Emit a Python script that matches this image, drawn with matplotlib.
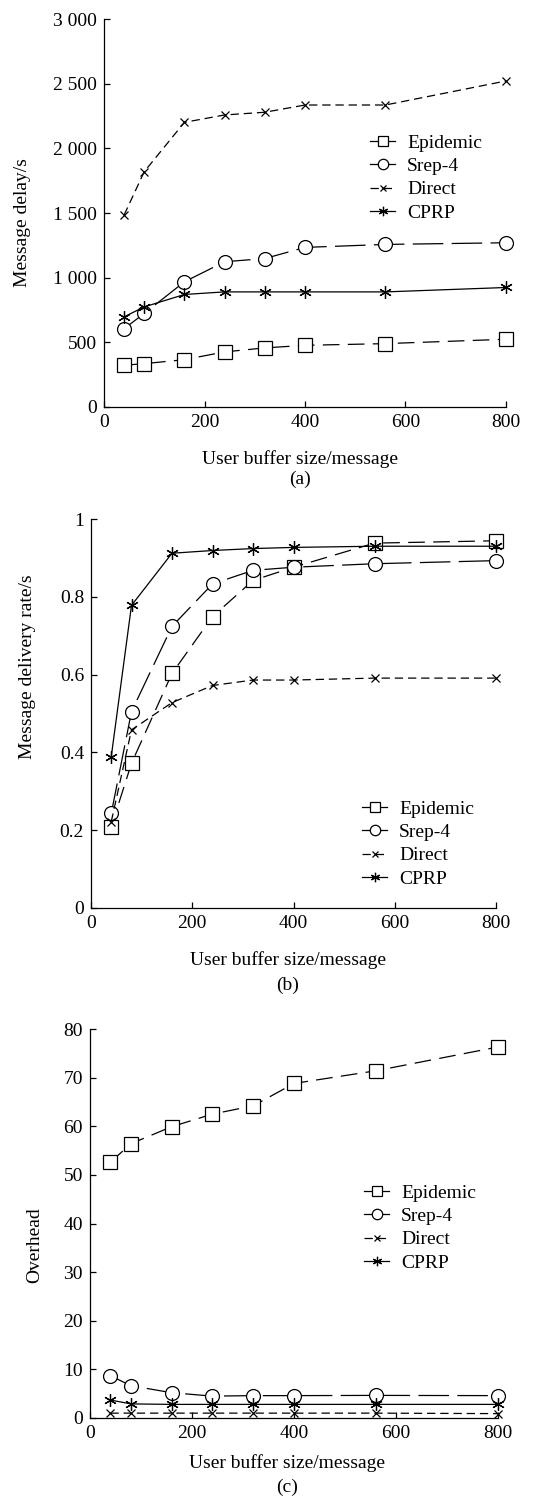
import matplotlib
matplotlib.use("Agg")
import matplotlib.pyplot as plt

plt.rcParams['font.family'] = ['Liberation Serif', 'DejaVu Serif']
plt.rcParams['lines.scale_dashes'] = False

buffer_sizes = [40, 80, 160, 240, 320, 400, 560, 800]
series_names = ["Epidemic", "Srep-4", "Direct", "CPRP"]

delay_epidemic = [323, 335, 366, 426, 457, 477, 490, 524]
delay_srep4 = [606, 723, 968, 1123, 1148, 1234, 1257, 1270]
delay_direct = [1484, 1819, 2201, 2258, 2279, 2335, 2335, 2521]
delay_cprp = [697, 774, 870, 890, 890, 890, 890, 924]

rate_epidemic = [0.209, 0.372, 0.603, 0.749, 0.842, 0.876, 0.938, 0.944]
rate_srep4 = [0.243, 0.505, 0.724, 0.833, 0.868, 0.876, 0.885, 0.893]
rate_direct = [0.222, 0.458, 0.528, 0.572, 0.586, 0.586, 0.591, 0.591]
rate_cprp = [0.389, 0.778, 0.912, 0.919, 0.924, 0.927, 0.930, 0.930]

ovh_epidemic = [52.6, 56.4, 59.9, 62.5, 64.2, 68.8, 71.4, 76.3]
ovh_srep4 = [8.7, 6.65, 5.2, 4.5, 4.6, 4.6, 4.65, 4.6]
ovh_direct = [1.0, 1.0, 1.0, 1.0, 1.0, 1.0, 1.0, 0.9]
ovh_cprp = [3.7, 2.9, 2.8, 2.8, 2.8, 2.8, 2.8, 2.8]

delay_ticks = [0, 500, 1000, 1500, 2000, 2500, 3000]
delay_ticklabels = ["0", "500", "1 000", "1 500", "2 000", "2 500", "3 000"]
rate_ticks = [0, 0.2, 0.4, 0.6, 0.8, 1.0]
rate_ticklabels = ["0", "0.2", "0.4", "0.6", "0.8", "1"]
ovh_ticks = [0, 10, 20, 30, 40, 50, 60, 70, 80]
x_ticks = [0, 200, 400, 600, 800]

styles = {
    "Epidemic": dict(marker='s', ms=10, mfc='white', linestyle=(0, (12, 6))),
    "Srep-4": dict(marker='o', ms=10, mfc='white', linestyle=(0, (22, 6))),
    "Direct": dict(marker='x', ms=5.5, linestyle=(0, (6, 3.5))),
    "CPRP": dict(marker=(6, 2, 0), ms=9, linestyle='-'),
}
legend_solid = {"Epidemic", "Srep-4", "CPRP"}

W, H = 553, 1496
fig = plt.figure(figsize=(W / 100, H / 100), dpi=100)
FS = 14


def make_axes(left, right, top, bottom):
    return fig.add_axes([left / W, 1 - bottom / H, (right - left) / W, (bottom - top) / H])


def setup(ax, yticks, ylabels, ylim):
    ax.set_xlim(0, 800)
    ax.set_ylim(*ylim)
    ax.set_xticks(x_ticks)
    ax.set_xticklabels([str(t) for t in x_ticks])
    ax.set_yticks(yticks)
    ax.set_yticklabels(ylabels)
    ax.tick_params(direction='in', length=4, width=0.9, labelsize=FS, pad=5)
    for s in ['top', 'right']:
        ax.spines[s].set_visible(False)
    for s in ['left', 'bottom']:
        ax.spines[s].set_linewidth(0.9)
    for lab in ax.get_xticklabels() + ax.get_yticklabels():
        lab.set_clip_on(False)


def draw(ax, data, legend_xy):
    for name, vals in zip(series_names, data):
        st = styles[name]
        ax.plot(buffer_sizes, vals, color='black', lw=0.9, mec='black', mew=0.9,
                label=name, clip_on=False, **st)
    leg = ax.legend(loc='upper left', bbox_to_anchor=(legend_xy[0] / W, 1 - legend_xy[1] / H),
                    bbox_transform=fig.transFigure, frameon=False, fontsize=FS,
                    handlelength=1.3, handletextpad=0.6, labelspacing=0.30,
                    markerscale=0.75, borderpad=0, borderaxespad=0)
    for name, line in zip(series_names, leg.get_lines()):
        if name in legend_solid:
            line.set_linestyle('-')


# Panel (a)
ax1 = make_axes(104, 506, 19, 407)
setup(ax1, delay_ticks, delay_ticklabels, (0, 3000))
draw(ax1, [delay_epidemic, delay_srep4, delay_direct, delay_cprp], (370, 134))
fig.text(23 / W, 1 - 223 / H, "Message delay/s", rotation=90, ha='center', va='center', fontsize=FS)
fig.text(300 / W, 1 - 459 / H, "User buffer size/message", ha='center', va='center', fontsize=FS)
fig.text(300 / W, 1 - 479 / H, "(a)", ha='center', va='center', fontsize=FS)

# Panel (b)
ax2 = make_axes(91, 496, 519, 908)
setup(ax2, rate_ticks, rate_ticklabels, (0, 1))
draw(ax2, [rate_epidemic, rate_srep4, rate_direct, rate_cprp], (362, 800))
fig.text(28 / W, 1 - 667 / H, "Message delivery rate/s", rotation=90, ha='center', va='center', fontsize=FS)
fig.text(288 / W, 1 - 960 / H, "User buffer size/message", ha='center', va='center', fontsize=FS)
fig.text(288 / W, 1 - 985 / H, "(b)", ha='center', va='center', fontsize=FS)

# Panel (c)
ax3 = make_axes(90, 498, 1029, 1418)
setup(ax3, ovh_ticks, [str(t) for t in ovh_ticks], (0, 80))
draw(ax3, [ovh_epidemic, ovh_srep4, ovh_direct, ovh_cprp], (364, 1184))
fig.text(35 / W, 1 - 1245 / H, "Overhead", rotation=90, ha='center', va='center', fontsize=FS)
fig.text(287 / W, 1 - 1463 / H, "User buffer size/message", ha='center', va='center', fontsize=FS)
fig.text(287 / W, 1 - 1487 / H, "(c)", ha='center', va='center', fontsize=FS)

fig.savefig("out.png", dpi=100, facecolor='white')
